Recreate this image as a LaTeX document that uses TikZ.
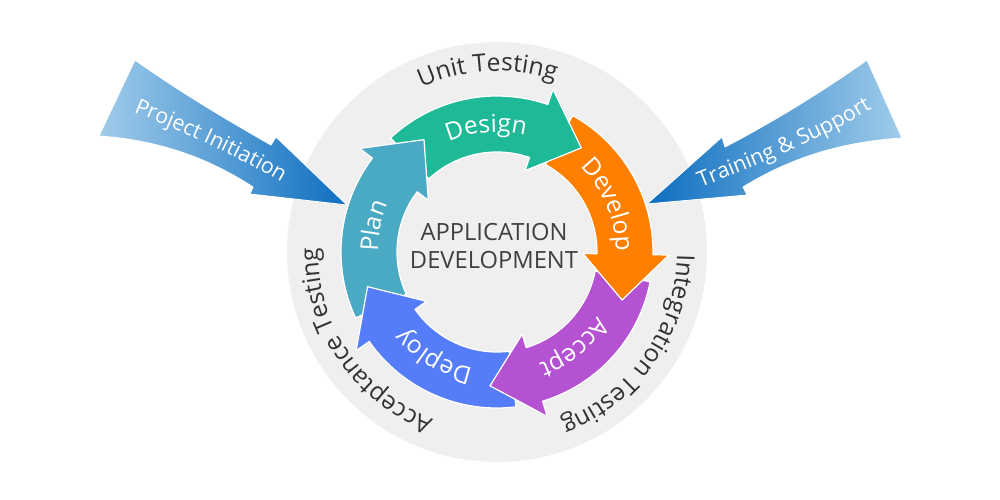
\documentclass[tikz,border=0pt]{standalone}
\usepackage{fontspec}
\setmainfont{Open Sans}
\usepackage{xcolor}
\usepackage{tikz}
\usetikzlibrary{decorations.text}

\definecolor{ringgray}{RGB}{239,239,239}
\definecolor{plancol}{RGB}{74,170,196}
\definecolor{designcol}{RGB}{30,185,150}
\definecolor{developcol}{RGB}{255,128,0}
\definecolor{acceptcol}{RGB}{180,82,210}
\definecolor{deploycol}{RGB}{85,125,250}
\definecolor{sidelight}{RGB}{160,204,234}
\definecolor{sidedark}{RGB}{14,110,192}
\definecolor{titlegray}{RGB}{64,64,64}
\definecolor{outergray}{RGB}{50,50,50}

\newcommand{\stagefont}{\fontsize{14}{16}\selectfont}
\newcommand{\outerfont}{\fontsize{14}{16}\selectfont}
\newcommand{\sidefont}{\fontsize{12.2}{14}\selectfont}

\tikzset{
  stage/.style={draw=white, line width=0.7pt, line join=round},
  sidearrow/.style={draw=white, line width=0.5pt, line join=round},
  curvelabel/.style={decorate, decoration={text along path, text align=center, text={#1}}},
  whitelabel/.style={curvelabel=#1, decoration={text color=white}},
  outerlabel/.style={curvelabel=#1, decoration={text color=outergray}},
}

\begin{document}
\begin{tikzpicture}[x=0.2mm, y=0.2mm]
  \useasboundingbox (-497,-248) rectangle (503,252);

  % Fond
  \fill[ringgray] (0,0) circle[radius=210];

  % Fleches laterales
  \path[sidearrow, left color=sidelight, right color=sidedark]
    (-362,192) .. controls (-320,162) and (-270,132) .. (-226,107) -- (-221,115) -- (-150,47)
    -- (-247,58) -- (-244,65) .. controls (-290,95) and (-340,112) .. (-398,116) -- cycle;
  \path[sidearrow, left color=sidedark, right color=sidelight]
    (370,192) .. controls (328,162) and (276,130) .. (228,105) -- (225,115) -- (150,48)
    -- (250,57) -- (246,65) .. controls (295,95) and (345,110) .. (405,114) -- cycle;

  % Corps des etapes
  \path[stage, fill=plancol] (205:156) arc[start angle=205, end angle=143, radius=156] -- (143:100) arc[start angle=143, end angle=205, radius=100] -- cycle;
  \path[stage, fill=designcol] (133:156) arc[start angle=133, end angle=71, radius=156] -- (71:100) arc[start angle=71, end angle=133, radius=100] -- cycle;
  \path[stage, fill=developcol] (61:156) arc[start angle=61, end angle=-1, radius=156] -- (-1:100) arc[start angle=-1, end angle=61, radius=100] -- cycle;
  \path[stage, fill=acceptcol] (-11:156) arc[start angle=-11, end angle=-73, radius=156] -- (-73:100) arc[start angle=-73, end angle=-11, radius=100] -- cycle;
  \path[stage, fill=deploycol] (-83:156) arc[start angle=-83, end angle=-145, radius=156] -- (-145:100) arc[start angle=-145, end angle=-83, radius=100] -- cycle;

  % Pointes
  \path[stage, fill=plancol] (146:156) arc[start angle=146, end angle=143, radius=156] -- (143:172) -- (123:134) -- (143:86) -- (143:100) arc[start angle=143, end angle=146, radius=100];
  \path[stage, fill=designcol] (74:156) arc[start angle=74, end angle=71, radius=156] -- (71:172) -- (51:134) -- (71:86) -- (71:100) arc[start angle=71, end angle=74, radius=100];
  \path[stage, fill=developcol] (2:156) arc[start angle=2, end angle=-1, radius=156] -- (-1:172) -- (-21:134) -- (-1:86) -- (-1:100) arc[start angle=-1, end angle=2, radius=100];
  \path[stage, fill=acceptcol] (-70:156) arc[start angle=-70, end angle=-73, radius=156] -- (-73:172) -- (-93:134) -- (-73:86) -- (-73:100) arc[start angle=-73, end angle=-70, radius=100];
  \path[stage, fill=deploycol] (-142:156) arc[start angle=-142, end angle=-145, radius=156] -- (-145:172) -- (-165:134) -- (-145:86) -- (-145:100) arc[start angle=-145, end angle=-142, radius=100];

  % Etiquettes des etapes
  \path[whitelabel={|\stagefont|Plan}] (208:119) arc[start angle=208, end angle=128, radius=119];
  \path[whitelabel={|\stagefont|Design}] (135:120) arc[start angle=135, end angle=55, radius=120];
  \path[whitelabel={|\stagefont|Develop}] (63:119) arc[start angle=63, end angle=-17, radius=119];
  \path[whitelabel={|\stagefont|Accept}] (-11:119) arc[start angle=-11, end angle=-91, radius=119];
  \path[whitelabel={|\stagefont|Deploy}] (-81:119) arc[start angle=-81, end angle=-161, radius=119];

  % Tests
  \path[outerlabel={|\outerfont|Unit Testing}] (140:181) arc[start angle=140, end angle=46, radius=181];
  \path[outerlabel={|\outerfont|Integration Testing}] (30:180) arc[start angle=30, end angle=-100, radius=180];
  \path[outerlabel={|\outerfont|Acceptance Testing}] (-81:179) arc[start angle=-81, end angle=-211, radius=179];

  % Textes des fleches laterales
  \path[whitelabel={|\sidefont|Project Initiation}] (-366,141) .. controls (-319,122) and (-263,98) .. (-213,68);
  \path[whitelabel={|\sidefont|Training {\&} Support}] (203,64) .. controls (260,87) and (320,110) .. (376,144);

  % Titre
  \node[align=center, text=titlegray, font=\fontsize{13.5}{15.5}\selectfont] (title) at (-3,6) {APPLICATION\\DEVELOPMENT};

\end{tikzpicture}
\end{document}
